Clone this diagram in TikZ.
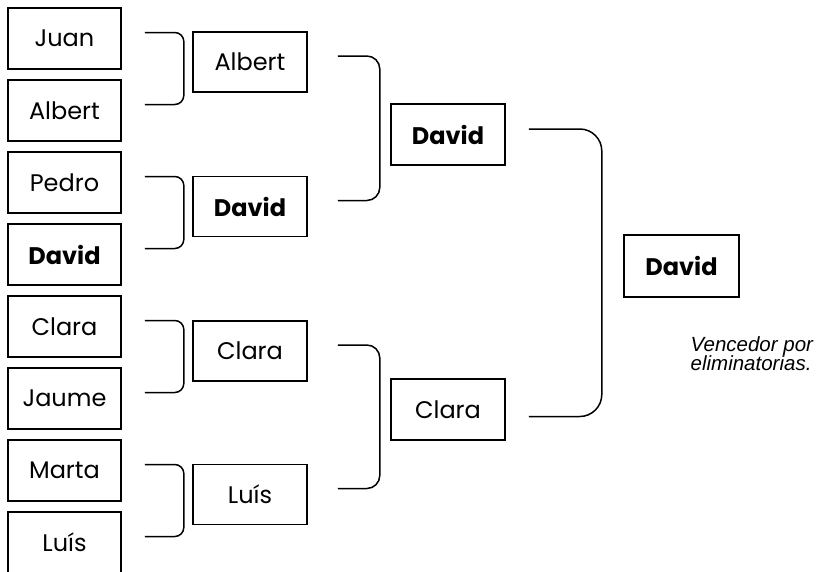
\documentclass[tikz,border=0pt]{standalone}
\usepackage{fontspec}
\setmainfont{Poppins}
\newfontfamily\capfont{Liberation Sans}
\usetikzlibrary{positioning,calc}

\begin{document}
\begin{tikzpicture}[x=1pt,y=-1pt]

        \def\d{9.4pt}

        % Boxes of the draw and the lines that join
        % each pair to the one who goes on
        \tikzset{
            player/.style={draw, line width=1.6pt, minimum width=113pt,
                minimum height=61pt, inner sep=0pt,
                font=\fontsize{24}{28}\selectfont},
            winner/.style={player, font=\fontsize{24}{28}\selectfont\bfseries},
            bracket/.style={line width=1.5pt}
        }

        \useasboundingbox (0,0) rectangle (820,571);

        % First round, one box under the other
        \begin{scope}
            \node[player] (a1) at (64.5, 38.5)
            {Juan};
            \node[player] (a2) [below=\d of a1]
            {Albert};
            \node[player] (a3) [below=\d of a2]
            {Pedro};
            \node[winner] (a4) [below=\d of a3]
            {David};
            \node[player] (a5) [below=\d of a4]
            {Clara};
            \node[player] (a6) [below=\d of a5]
            {Jaume};
            \node[player] (a7) [below=\d of a6]
            {Marta};
            \node[player] (a8) [below=\d of a7]
            {Luís};
        \end{scope}

        % Second round
        \begin{scope}[every node/.style={player, minimum width=114pt, minimum height=60pt}]
            \node (b1) at (250, 62) {Albert};
            \node[font=\fontsize{24}{28}\selectfont\bfseries] (b2) at (250, 206.5) {David};
            \node (b3) at (250, 351) {Clara};
            \node (b4) at (250, 494.5) {Luís};
        \end{scope}

        % Final and winner
        \node[winner, minimum width=114pt] (c1) at (448, 134.5) {David};
        \node[player, minimum width=114pt] (c2) at (448, 409.5) {Clara};
        \node[winner, minimum width=115pt, minimum height=62pt] (w) at (681.5, 266) {David};

        \node[anchor=north west, align=left, inner sep=0pt,
            font=\capfont\itshape\fontsize{20.5}{19.5}\selectfont] (lema)
            at (690.5, 336) {Vencedor por\\eliminatorias.};

        \begin{scope}[bracket]
            \foreach \t/\b in {a1/a2, a3/a4, a5/a6, a7/a8}
                \draw[rounded corners=9pt] ([xshift=23pt, yshift=6pt]\t.east)
                    -| ([xshift=62pt, yshift=6pt]\b.east) -- ([xshift=23pt, yshift=6pt]\b.east);
            \foreach \t/\b in {b1/b2, b3/b4}
                \draw[rounded corners=13pt] ([xshift=30pt, yshift=6pt]\t.east)
                    -| ([xshift=72pt, yshift=6pt]\b.east) -- ([xshift=30pt, yshift=6pt]\b.east);
            \draw[rounded corners=22pt] ([xshift=23pt, yshift=5.5pt]c1.east)
                -| ([xshift=96pt, yshift=-7pt]c2.east) -- ([xshift=23pt, yshift=-7pt]c2.east);
        \end{scope}

\end{tikzpicture}
\end{document}
